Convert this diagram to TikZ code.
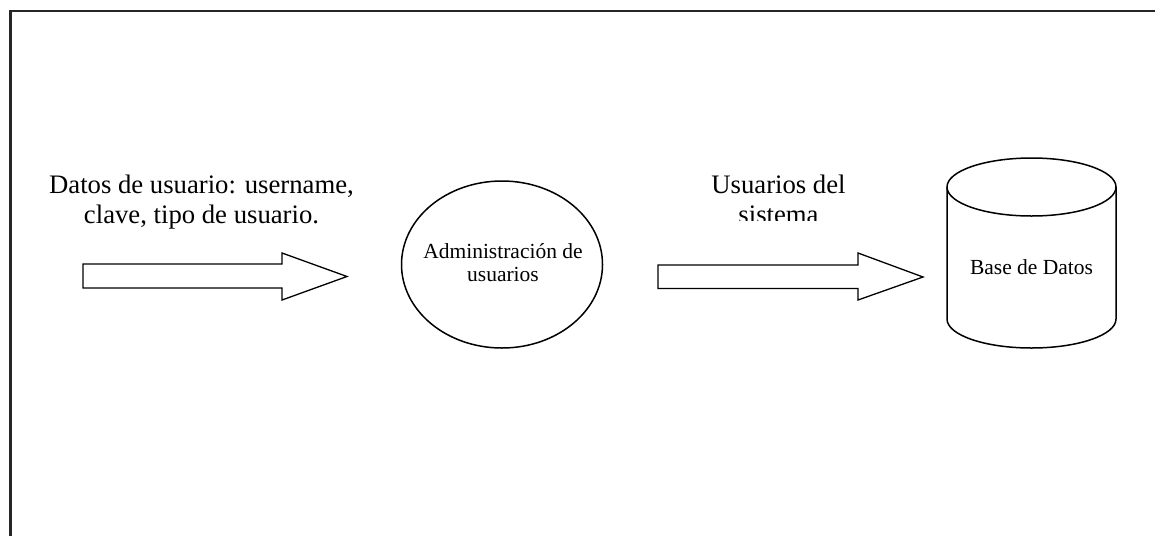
\documentclass[tikz,border=0pt]{standalone}
\usepackage{fontspec}
\setmainfont{Liberation Serif}
\usetikzlibrary{shapes.geometric}
\begin{document}
\begin{tikzpicture}[x=1pt,y=-1pt,
  frame/.style={line width=2.2pt,draw=black!85},
  blockarrow/.style={draw=black,line width=1.3pt,fill=white,line join=miter},
  shapeline/.style={draw=black,line width=1.5pt},
  biglabel/.style={inner sep=0pt,align=center,font=\fontsize{26.7}{29.5}\selectfont},
  smalllabel/.style={inner sep=0pt,align=center,font=\fontsize{21.5}{23}\selectfont}]
\useasboundingbox (0,0) rectangle (1155,536);
% frame (top and left edges only)
\coordinate (fbl) at (10.5,536);
\coordinate (ftl) at (10.5,11.3);
\coordinate (ftr) at (1155,11.3);
\draw[frame] (fbl) -- (ftl) -- (ftr);
% input label
\node[biglabel,anchor=north] (inlabel) at (201.5,175) {Datos de usuario: username,\\clave, tipo de usuario.};
% arrow 1
\draw[blockarrow] (83,264) -- (282,264) -- (282,253) -- (347,276.5) -- (282,300) -- (282,288) -- (83,288) -- cycle;
% process ellipse
\node[shapeline,ellipse,minimum width=201pt,minimum height=167pt,inner sep=0pt] (proc) at (502,264.5) {};
\node[smalllabel,anchor=north] (proclabel) at (503,243.3) {Administración de\\usuarios};
% output label (clipped second line)
\begin{scope}
\clip (690,150) rectangle (880,220);
\node[biglabel,anchor=north] (outlabel) at (778.5,175) {Usuarios del\\sistema};
\end{scope}
% arrow 2
\draw[blockarrow] (658,265) -- (858,265) -- (858,253) -- (923,277) -- (858,300) -- (858,288.5) -- (658,288.5) -- cycle;
% database cylinder
\coordinate (dbtl) at (947,187);
\coordinate (dbbl) at (947,319);
\draw[shapeline] (1031.5,187) ellipse [x radius=84.5, y radius=29];
\draw[shapeline] (dbtl) -- (dbbl) arc[start angle=180,end angle=360,x radius=84.5,y radius=-29] -- (1116,187);
\node[smalllabel,anchor=base] (db) at (1031.5,274) {Base de Datos};
\end{tikzpicture}
\end{document}
